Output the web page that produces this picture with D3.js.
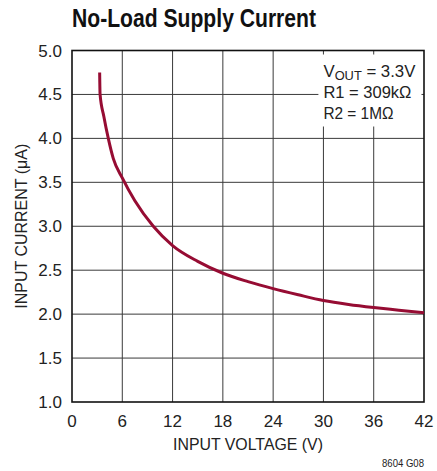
<!DOCTYPE html>
<html lang="en">
<head>
<meta charset="UTF-8">
<title>No-Load Supply Current</title>
<script src="https://cdnjs.cloudflare.com/ajax/libs/d3/7.8.5/d3.min.js"></script>
<style>
    body { margin: 0; background: #fff; }
    svg { display: block; }
    text { font-family: "Liberation Sans", Arial, sans-serif; fill: #222; }
    .title { font-weight: bold; font-size: 25px; fill: #111; }
    .tick { font-size: 17px; }
    .label { font-size: 17px; }
    .grid line { stroke: #3a3a3a; stroke-width: 1; }
</style>
</head>
<body>
<div id="chart"></div>
<script>
// input voltage (V) vs no-load supply current (uA)
const vin = [3.3, 3.35, 3.8, 4.33, 4.93, 6, 7.5, 9.7, 12, 15, 18, 21, 24, 27, 30, 33, 36, 39, 42];
const iin = [4.75, 4.5, 4.25, 4.0, 3.77, 3.55, 3.29, 3.0, 2.78, 2.6, 2.465, 2.37, 2.29, 2.22, 2.155, 2.11, 2.075, 2.045, 2.015];
const xTicks = [0, 6, 12, 18, 24, 30, 36, 42];
const yTicks = [1.0, 1.5, 2.0, 2.5, 3.0, 3.5, 4.0, 4.5, 5.0];
const notes = ["R1 = 309k\u03A9", "R2 = 1M\u03A9"];

const W = 437, H = 471;
const margin = {top: 50.5, right: 13, bottom: 69, left: 72};
const width = W - margin.left - margin.right;
const height = H - margin.top - margin.bottom;

const svg = d3.select("#chart").append("svg")
    .attr("width", W).attr("height", H);

svg.append("text").attr("class", "title")
    .attr("x", 72).attr("y", 27)
    .attr("textLength", 244).attr("lengthAdjust", "spacingAndGlyphs")
    .text("No-Load Supply Current");

const g = svg.append("g").attr("transform", `translate(${margin.left},${margin.top})`);

const x = d3.scaleLinear().domain([0, 42]).range([0, width]);
const y = d3.scaleLinear().domain([1, 5]).range([height, 0]);

// grid
const grid = g.append("g").attr("class", "grid");
grid.selectAll(".vx").data(xTicks.slice(1, -1)).enter().append("line")
    .attr("x1", d => x(d)).attr("x2", d => x(d))
    .attr("y1", 0).attr("y2", height);
grid.selectAll(".hy").data(yTicks.slice(1, -1)).enter().append("line")
    .attr("y1", d => y(d)).attr("y2", d => y(d))
    .attr("x1", 0).attr("x2", width);

// note box covers grid
g.append("rect")
    .attr("x", x(29.4)).attr("y", 4)
    .attr("width", x(41.7) - x(29.4)).attr("height", 72)
    .attr("fill", "#fff");

// frame
g.append("rect")
    .attr("width", width).attr("height", height)
    .attr("fill", "none").attr("stroke", "#111").attr("stroke-width", 1.6);

// tick labels
g.selectAll(".xl").data(xTicks).enter().append("text")
    .attr("class", "tick")
    .attr("x", d => x(d)).attr("y", height + 25)
    .attr("text-anchor", "middle")
    .text(d => d);
g.selectAll(".yl").data(yTicks).enter().append("text")
    .attr("class", "tick")
    .attr("x", -10).attr("y", d => y(d) + 6)
    .attr("text-anchor", "end")
    .text(d => d.toFixed(1));

// curve
const line = d3.line()
    .x((d, i) => x(vin[i]))
    .y(d => y(d))
    .curve(d3.curveMonotoneX);
g.append("path")
    .attr("d", line(iin))
    .attr("fill", "none")
    .attr("stroke", "#960c33")
    .attr("stroke-width", 3)
    .attr("stroke-linejoin", "round");

// notes
const nx = x(30);
const t0 = g.append("text").attr("class", "label").attr("x", nx).attr("y", 26)
    .attr("textLength", 92).attr("lengthAdjust", "spacingAndGlyphs");
t0.append("tspan").text("V");
t0.append("tspan").attr("font-size", 13).attr("dy", 3).text("OUT");
t0.append("tspan").attr("dy", -3).text(" = 3.3V");
g.selectAll(".note").data(notes).enter().append("text")
    .attr("class", "label")
    .attr("x", nx).attr("y", (d, i) => 47 + i * 21)
    .attr("textLength", (d, i) => i ? 70 : 88).attr("lengthAdjust", "spacingAndGlyphs")
    .text(d => d);

// axis titles
svg.append("text").attr("class", "label")
    .attr("x", margin.left + width / 2).attr("y", 450)
    .attr("text-anchor", "middle")
    .attr("textLength", 150).attr("lengthAdjust", "spacingAndGlyphs")
    .text("INPUT VOLTAGE (V)");
svg.append("text").attr("class", "label")
    .attr("transform", `translate(27,${margin.top + height / 2}) rotate(-90)`)
    .attr("text-anchor", "middle")
    .attr("textLength", 165).attr("lengthAdjust", "spacingAndGlyphs")
    .text("INPUT CURRENT (\u03BCA)");

svg.append("text")
    .attr("x", 424).attr("y", 467)
    .attr("text-anchor", "end")
    .attr("font-size", 11)
    .attr("textLength", 42).attr("lengthAdjust", "spacingAndGlyphs")
    .text("8604 G08");
</script>
</body>
</html>
